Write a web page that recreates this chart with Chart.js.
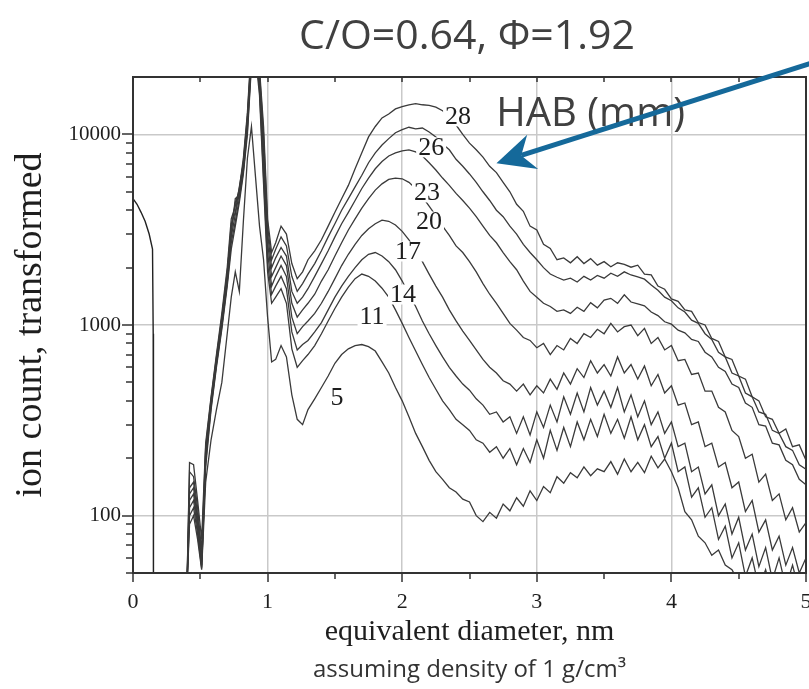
<!DOCTYPE html>
<html>
<head>
<meta charset="utf-8">
<script src="https://cdn.jsdelivr.net/npm/chart.js@4.4.1/dist/chart.umd.min.js"></script>
<style>
  html, body { margin: 0; padding: 0; background: #fff; }
  canvas { display: block; }
</style>
</head>
<body>
<canvas id="chart" width="809" height="689"></canvas>
<script>
// equivalent diameter (nm), shared by the HAB curves
const diameter = [0.40,0.42,0.45,0.48,0.51,0.54,0.58,0.62,0.66,0.70,0.73,0.76,0.79,0.82,0.85,0.88,0.91,0.94,0.97,1.00,1.03,1.06,1.10,1.14,1.18,1.22,1.26,
  1.30,1.35,1.40,1.45,1.50,1.55,1.60,1.65,1.70,1.75,
  1.80,1.85,1.90,1.95,2.00,2.05,2.10,2.15,2.20,2.25,
  2.30,2.35,2.40,2.45,2.50,2.55,2.60,2.65,2.70,2.75,
  2.80,2.85,2.90,2.95,3.00,3.05,3.10,3.15,3.20,3.25,
  3.30,3.35,3.40,3.45,3.50,3.55,3.60,3.65,3.70,3.75,
  3.80,3.85,3.90,3.95,4.00,4.05,4.10,4.15,4.20,4.25,
  4.30,4.35,4.40,4.45,4.50,4.55,4.60,4.65,4.70,4.75,
  4.80,4.85,4.90,4.95,5.00]

// ion count per HAB (mm)
const hab28 = [40,190,185,120,75,240,420,700,1150,2000,3600,4200,5200,7500,13000,30000,38000,22000,11000,3600,2400,2700,3300,3000,2100,1750,1900,
  2200,2450,2800,3300,3900,4600,5400,6600,8000,9700,
  11000,12200,12800,13600,14000,14300,14500,14300,14200,13900,
  13300,12400,11200,10000,9000,8300,7600,6800,6300,5600,
  5000,4300,3950,3300,3150,2650,2520,2200,2250,2120,
  2280,2100,2230,2060,2150,2020,2120,2080,2010,2060,
  1850,1830,1600,1540,1370,1330,1200,1180,1030,1000,
  850,820,680,660,540,520,420,400,330,320,
  270,285,230,235,195]
const hab26 = [40,170,160,110,65,230,410,680,1100,1900,3200,4400,5000,7200,12500,28000,36000,21000,10000,3300,2200,2500,2900,2600,1800,1500,1650,
  1850,2100,2450,2900,3400,4000,4600,5300,6100,7100,
  8000,8800,9500,10200,10600,10900,10700,10800,10300,9700,
  8900,8300,7400,6800,6200,5600,5000,4500,4000,3700,
  3300,3000,2650,2400,2200,2000,1850,1780,1720,1760,
  1680,1800,1720,1820,1760,1870,1800,1900,1830,1790,
  1740,1620,1520,1400,1340,1230,1170,1060,1020,900,
  840,720,680,560,540,440,420,350,340,280,
  270,230,220,185,175]
const hab23 = [40,140,150,100,60,220,400,660,1080,1850,3400,3900,5300,7000,12000,27000,34000,20000,9000,3000,2000,2250,2550,2300,1500,1300,1400,
  1550,1800,2100,2450,2900,3400,3900,4500,5200,5900,
  6600,7200,7700,8000,8200,8300,8100,7700,7100,6500,
  5900,5400,4900,4500,4100,3700,3300,2950,2700,2400,
  2150,1950,1700,1500,1400,1300,1250,1180,1200,1150,
  1240,1180,1310,1230,1350,1380,1300,1440,1320,1290,
  1260,1170,1120,1040,1010,940,910,840,820,720,
  680,600,570,490,470,390,370,300,295,240,
  235,195,185,155,145]
const hab20 = [40,130,140,95,58,210,390,640,1050,1800,3000,4600,4800,6800,11500,26000,32000,19000,8000,2700,1800,2000,2300,2050,1300,1100,1200,
  1300,1450,1700,1950,2300,2700,3150,3600,4100,4600,
  5100,5500,5800,5900,5850,5600,5200,4700,4200,3750,
  3300,2950,2600,2400,2150,1900,1650,1450,1300,1150,
  1020,940,860,830,760,800,700,780,740,850,
  800,900,860,950,900,1020,920,980,1000,880,
  960,800,860,740,780,650,660,550,560,450,
  450,370,350,280,260,200,210,150,165,120,
  130,95,110,82,92]
const hab17 = [40,120,130,90,55,200,380,630,1000,1700,2900,3800,4900,6600,11000,25000,30000,18000,7000,2400,1600,1800,2050,1800,1100,900,980,
  1050,1150,1300,1500,1750,2050,2350,2650,2950,3200,
  3400,3550,3500,3350,3100,2800,2450,2150,1850,1600,
  1400,1200,1050,930,830,740,660,600,560,510,
  490,450,490,430,480,440,520,460,560,490,
  590,530,650,560,620,540,680,560,620,520,
  610,480,550,440,480,380,390,300,310,230,
  240,180,190,140,150,105,120,82,95,66,
  78,55,68,50,60]
const hab14 = [40,110,120,85,54,190,370,620,980,1650,2700,3500,4600,6400,10500,24000,28000,17000,6000,2100,1450,1600,1800,1550,920,740,790,
  830,920,1030,1200,1400,1600,1800,2000,2200,2350,
  2400,2300,2150,1950,1700,1450,1250,1050,900,780,
  680,600,540,490,455,410,380,340,350,310,
  330,270,330,265,350,290,380,310,420,340,
  440,350,470,380,450,370,470,350,430,330,
  400,300,350,270,310,230,240,170,180,130,
  145,100,115,80,98,66,80,54,68,46,
  60,42,55,40,50]
const hab11 = [40,100,110,80,53,180,360,600,950,1600,2500,3300,4400,6200,10000,23000,26000,16000,5500,1900,1300,1400,1550,1300,750,600,650,
  700,780,900,1050,1220,1400,1580,1750,1850,1800,
  1700,1560,1400,1200,1020,860,730,620,530,460,
  400,360,320,300,280,250,240,215,230,200,
  225,185,225,190,250,200,280,220,290,230,
  310,250,320,260,340,270,320,255,330,250,
  300,230,260,200,240,170,180,125,140,98,
  110,75,88,60,72,48,60,42,52,38,
  46,36,44,35,40]
const hab5 = [40,90,100,75,52,150,250,360,500,900,1400,1900,1500,3500,7500,11000,6000,3300,2200,1100,640,660,780,680,430,320,300,
  360,410,470,540,630,700,750,780,790,770,
  730,640,560,470,400,330,270,230,195,170,
  155,140,133,122,118,100,93,104,97,115,
  106,124,112,135,120,142,132,160,148,168,
  158,180,162,176,170,192,165,198,170,190,
  168,205,178,198,170,140,105,95,78,72,
  62,66,55,52,45,42,40,38,36,35,
  34,33,32,31,30]

// short trace at the far left
const edgeDiameter = [0, 0.03, 0.06, 0.09, 0.12, 0.145, 0.15, 0.152]
const edgeCount = [4600, 4300, 3900, 3500, 3000, 2500, 900, 30]

const habNames = ['28', '26', '23', '20', '17', '14', '11', '5']
const habSeries = [hab28, hab26, hab23, hab20, hab17, hab14, hab11, hab5]

// axis ticks
const xTicks = [0, 1, 2, 3, 4, 5]
const xTickMarks = [0, 0.5, 1, 1.5, 2, 2.5, 3, 3.5, 4, 4.5, 5]
const yTickLabels = [100, 1000, 10000]
const yTickMarks = [50, 60, 70, 80, 90, 100, 200, 300, 400, 500, 600, 700, 800, 900,
  1000, 2000, 3000, 4000, 5000, 6000, 7000, 8000, 9000, 10000]

const isMajorY = v => yTickLabels.some(m => Math.abs(v - m) < 1e-6)

const lineColor = '#3a3a3a'
const datasets = habSeries.map((vals, k) => ({
  label: habNames[k],
  data: vals.map((v, i) => ({ x: diameter[i], y: v })),
  borderColor: lineColor,
  borderWidth: 1.3,
  pointRadius: 0,
  tension: 0
}))
datasets.push({
  label: 'edge',
  data: edgeCount.map((v, i) => ({ x: edgeDiameter[i], y: v })),
  borderColor: '#222',
  borderWidth: 1.4,
  pointRadius: 0,
  tension: 0
})

// text and drawn extras
const curveLabels = [
  { t: '28', x: 2.415, y: 12430 },
  { t: '26', x: 2.215, y: 8550 },
  { t: '23', x: 2.184, y: 4960 },
  { t: '20', x: 2.199, y: 3490 },
  { t: '17', x: 2.043, y: 2430 },
  { t: '14', x: 2.006, y: 1445 },
  { t: '11', x: 1.776, y: 1108 },
  { t: '5', x: 1.516, y: 416 }
]

const decor = {
  id: 'decor',
  afterDatasetsDraw(chart) {
    const { ctx, chartArea: a, scales: { x, y } } = chart
    ctx.save()

    // frame
    ctx.strokeStyle = '#333'
    ctx.lineWidth = 2
    ctx.strokeRect(a.left, a.top, a.right - a.left, a.bottom - a.top)

    // tick marks
    ctx.lineWidth = 1.5
    ctx.beginPath()
    xTickMarks.forEach(t => {
      const px = Math.round(x.getPixelForValue(t))
      const major = Number.isInteger(t)
      ctx.moveTo(px, a.bottom)
      ctx.lineTo(px, a.bottom + (major ? 9 : 6))
      ctx.moveTo(px, a.top)
      ctx.lineTo(px, a.top + 5)
    })
    yTickMarks.forEach(t => {
      const py = Math.round(y.getPixelForValue(t))
      ctx.moveTo(a.left, py)
      ctx.lineTo(a.left - (isMajorY(t) ? 11 : 7), py)
    })
    ctx.stroke()

    // HAB numbers on the curves
    ctx.font = '26px "Liberation Serif", "Times New Roman", serif'
    ctx.textAlign = 'center'
    ctx.textBaseline = 'middle'
    curveLabels.forEach(l => {
      const px = x.getPixelForValue(l.x)
      const py = y.getPixelForValue(l.y)
      const w = ctx.measureText(l.t).width
      ctx.fillStyle = '#fff'
      ctx.fillRect(px - w / 2 - 2, py - 10, w + 4, 20)
      ctx.fillStyle = '#1e1e1e'
      ctx.fillText(l.t, px, py + 1)
    })

    // "HAB (mm)" annotation
    ctx.font = '40px "Open Sans", "Noto Sans", sans-serif'
    ctx.fillStyle = '#404040'
    ctx.textAlign = 'center'
    ctx.textBaseline = 'alphabetic'
    ctx.fillText('HAB (mm)', x.getPixelForValue(3.4), y.getPixelForValue(10000) - 8)

    // arrow
    const sx = x.getPixelForValue(5.03), sy = y.getPixelForValue(23500)
    const tx = x.getPixelForValue(2.70), ty = y.getPixelForValue(7050)
    const len = Math.hypot(sx - tx, sy - ty)
    const ux = (sx - tx) / len, uy = (sy - ty) / len
    const nx = -uy, ny = ux
    ctx.strokeStyle = '#15699a'
    ctx.fillStyle = '#15699a'
    ctx.lineWidth = 5
    ctx.beginPath()
    ctx.moveTo(sx, sy)
    ctx.lineTo(tx + ux * 26, ty + uy * 26)
    ctx.stroke()
    ctx.beginPath()
    ctx.moveTo(tx, ty)
    ctx.lineTo(tx + ux * 38 + nx * 18, ty + uy * 38 + ny * 18)
    ctx.lineTo(tx + ux * 26, ty + uy * 26)
    ctx.lineTo(tx + ux * 38 - nx * 18, ty + uy * 38 - ny * 18)
    ctx.closePath()
    ctx.fill()

    ctx.restore()
  },
  afterDraw(chart) {
    const { ctx, chartArea: a } = chart
    const cx = (a.left + a.right) / 2
    ctx.save()
    ctx.textAlign = 'center'
    ctx.textBaseline = 'alphabetic'

    ctx.font = '41px "Open Sans", "Noto Sans", sans-serif'
    ctx.fillStyle = '#404040'
    ctx.fillText('C/O=0.64, Φ=1.92', 467, 49)

    ctx.font = '30px "Liberation Serif", "Times New Roman", serif'
    ctx.fillStyle = '#1e1e1e'
    ctx.fillText('equivalent diameter, nm', cx, 640)

    ctx.font = '24px "Open Sans", "Noto Sans", sans-serif'
    ctx.fillStyle = '#333'
    ctx.fillText('assuming density of 1 g/cm³', cx, 677)

    ctx.translate(41, (a.top + a.bottom) / 2)
    ctx.rotate(-Math.PI / 2)
    ctx.font = '38px "Liberation Serif", "Times New Roman", serif'
    ctx.fillStyle = '#1e1e1e'
    ctx.fillText('ion count, transformed', 0, 0)
    ctx.restore()
  }
}

const gridGray = '#c9c9c9'

new Chart(document.getElementById('chart'), {
  type: 'line',
  data: { datasets },
  options: {
    responsive: false,
    animation: false,
    devicePixelRatio: 1,
    layout: { padding: { top: 77, right: 3, bottom: 0, left: 0 } },
    plugins: {
      legend: { display: false },
      tooltip: { enabled: false }
    },
    scales: {
      x: {
        type: 'linear',
        min: 0,
        max: 5,
        afterBuildTicks: s => { s.ticks = xTicks.map(v => ({ value: v })) },
        afterFit: s => { s.height = 116; s.paddingLeft = 0; s.paddingRight = 0 },
        ticks: {
          padding: 16,
          color: '#1e1e1e',
          font: { family: '"Liberation Serif", "Times New Roman", serif', size: 22 }
        },
        grid: {
          drawTicks: false,
          lineWidth: 1.5,
          color: c => (c.tick && (c.tick.value === 0 || c.tick.value === 5)) ? 'rgba(0,0,0,0)' : gridGray
        },
        border: { display: false }
      },
      y: {
        type: 'logarithmic',
        min: 50,
        max: 20000,
        afterFit: s => { s.width = 133; s.paddingTop = 0; s.paddingBottom = 0 },
        ticks: {
          autoSkip: false,
          padding: 12,
          color: '#1e1e1e',
          font: { family: '"Liberation Serif", "Times New Roman", serif', size: 21 },
          callback: v => isMajorY(v) ? String(Math.round(v)) : ''
        },
        grid: {
          drawTicks: false,
          lineWidth: 1.5,
          color: c => (c.tick && isMajorY(c.tick.value)) ? gridGray : 'rgba(0,0,0,0)'
        },
        border: { display: false }
      }
    }
  },
  plugins: [decor]
})
</script>
</body>
</html>
